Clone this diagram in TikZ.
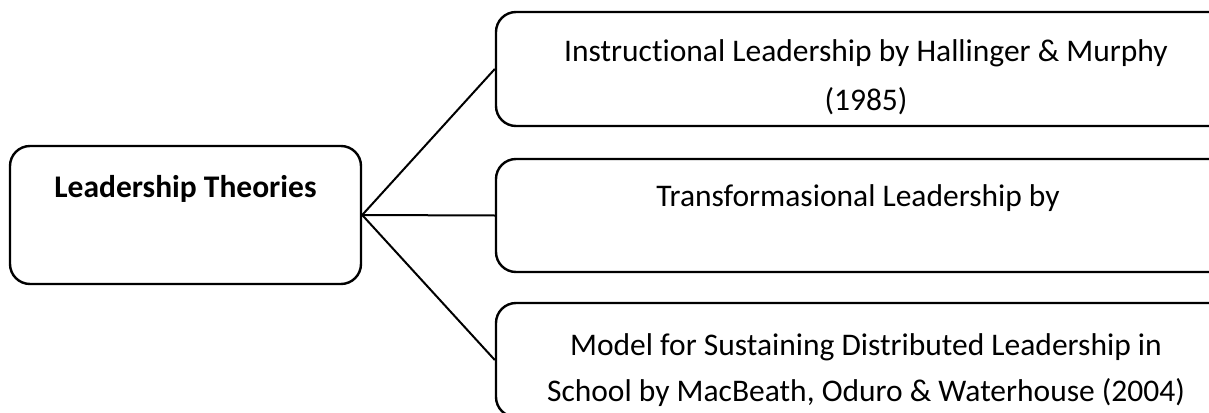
\documentclass[tikz,border=0pt]{standalone}
\usepackage{fontspec}
\setmainfont{Carlito}[Ligatures=NoCommon]
\begin{document}
\begin{tikzpicture}[x=1pt,y=-1pt,
  box/.style={draw=black,line width=2.4pt,rounded corners=20pt,inner sep=0pt,fill=none},
  txt/.style={font=\fontsize{31.5}{47}\selectfont,align=center,inner sep=0pt,anchor=base},
  conn/.style={draw=black,line width=2pt}]
\useasboundingbox (0,0) rectangle (1209,412);
\clip (0,0) rectangle (1209,412);
\node[box,minimum width=351pt,minimum height=138pt] (lt) at (185.5,215) {};
\node[box,minimum width=740pt,minimum height=114pt] (b1) at (866,69) {};
\node[box,minimum width=740pt,minimum height=113pt] (b2) at (866,215.5) {};
\node[box,minimum width=740pt,minimum height=114pt] (b3) at (866,360) {};
\node[txt,font=\fontsize{31.5}{47}\selectfont\bfseries] (tl) at (185.5,197) {Leadership Theories};
\node[txt] (t1) at (866,62) {Instructional Leadership by Hallinger \& Murphy};
\node[txt] (t1b) at (866,110) {(1985)};
\node[txt] (t2) at (858,206) {Transformasional Leadership by};
\node[txt] (t3) at (866,355) {Model for Sustaining Distributed Leadership in};
\node[txt] (t3b) at (866,401) {School by MacBeath, Oduro \& Waterhouse (2004)};
\draw[conn] (lt.east) -- (b1.west);
\draw[conn] (lt.east) -- (b2.west);
\draw[conn] (lt.east) -- (b3.west);
\end{tikzpicture}
\end{document}
